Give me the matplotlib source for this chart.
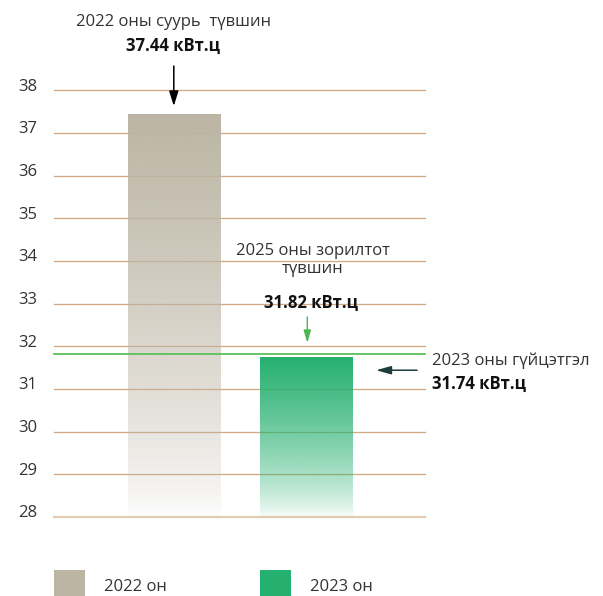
import numpy as np
import matplotlib
matplotlib.use("Agg")
import matplotlib.pyplot as plt
from matplotlib.patches import Rectangle
from matplotlib.transforms import ScaledTranslation
from matplotlib.colors import to_rgb

# ---- data ----
years = ["2022 он", "2023 он"]
values = [37.44, 31.74]
target = 31.82
yticks = [28, 29, 30, 31, 32, 33, 34, 35, 36, 37, 38]
bar_colors = ["#bcb5a4", "#25b06f"]
label_2022_title = "2022 оны суурь  түвшин"
label_2022_value = "37.44 кВт.ц"
label_target_title = "2025 оны зорилтот\nтүвшин"
label_target_value = "31.82 кВт.ц"
label_2023_title = "2023 оны гүйцэтгэл"
label_2023_value = "31.74 кВт.ц"

plt.rcParams['font.family'] = ['Open Sans', 'DejaVu Sans']
TXT = "#333333"
FS = 12
W, H = 603, 596
fig = plt.figure(figsize=(W / 100, H / 100), dpi=100)

def fx(px):
    return px / W

def fy(py):
    return 1 - py / H

ax_left, ax_right, ax_top, ax_bot = 54.3, 425, 90.3, 517
ax = fig.add_axes([fx(ax_left), fy(ax_bot), fx(ax_right - ax_left), (ax_bot - ax_top) / H])

ymin, ymax = yticks[0], yticks[-1]
unit = 132.2  # px per category step
x0_center = 173.8
xlim = (-(x0_center - ax_left) / unit, (ax_right - x0_center) / unit)

# gridlines
for t in yticks:
    c = "#e2cbb2" if t == ymin else "#d2ab86"
    lw = 1.6 if t == ymin else 0.95
    ax.axhline(t, color=c, lw=lw, zorder=1, clip_on=False)

# bars with gradient fill
xs = np.arange(len(values))
bars = ax.bar(xs, [v - ymin for v in values], bottom=ymin, width=0.7,
              facecolor="none", edgecolor="none", zorder=2)
N = 256
tt = np.linspace(0, 1, N)
for bar, col in zip(bars, bar_colors):
    rgb = np.array(to_rgb(col))
    alpha = np.clip((1 - tt) ** 0.7, 0.03, 1)
    img = np.zeros((N, 1, 4))
    img[:, 0, :3] = rgb
    img[:, 0, 3] = alpha
    x0 = bar.get_x()
    x1 = x0 + bar.get_width()
    im = ax.imshow(img, extent=[x0, x1, ymin, bar.get_y() + bar.get_height()],
                   origin="upper", aspect="auto", zorder=2, interpolation="bilinear")
    im.set_clip_path(bar)

# target line
ax.axhline(target, color="#5cbf5c", lw=1.3, zorder=3, clip_on=False)

ax.set_xlim(*xlim)
ax.set_ylim(ymin, ymax)
ax.set_aspect("auto")
for s in ax.spines.values():
    s.set_visible(False)
ax.set_xticks([])
ax.set_yticks(yticks)
ax.set_yticklabels([str(t) for t in yticks])
ax.tick_params(axis="y", length=0, pad=12.5, labelsize=FS, labelcolor=TXT)
for lab in ax.get_yticklabels():
    lab.set_transform(lab.get_transform() + ScaledTranslation(0, 4 / 72, fig.dpi_scale_trans))

# annotations
arrow_kw = dict(shrinkA=0, shrinkB=0)
ax.annotate("", xy=(xs[0], values[0] + 0.19), xytext=(xs[0], values[0] + 1.13),
            arrowprops=dict(arrowstyle="-|>,head_width=0.28,head_length=0.9", color="black",
                            lw=1.1, **arrow_kw),
            annotation_clip=False)
ax.annotate("", xy=(xs[1] + 0.01, target + 0.26), xytext=(xs[1] + 0.01, target + 0.87),
            arrowprops=dict(arrowstyle="-|>,head_width=0.22,head_length=0.75", color="#4cb84c",
                            lw=1.0, **arrow_kw),
            annotation_clip=False)
ax.annotate("", xy=(1.53, values[1] - 0.30), xytext=(1.84, values[1] - 0.30),
            arrowprops=dict(arrowstyle="-|>,head_width=0.25,head_length=0.9", color="#1e3d3d",
                            lw=1.1, **arrow_kw),
            annotation_clip=False)

fig.text(fx(173.5), fy(22), label_2022_title, ha="center", va="center", fontsize=FS, color=TXT)
fig.text(fx(173.5), fy(46), label_2022_value, ha="center", va="center", fontsize=FS,
         color="#111111", fontweight="bold")
fig.text(fx(312.5), fy(260), label_target_title, ha="center", va="center", fontsize=FS,
         color=TXT, linespacing=1.2)
fig.text(fx(311.5), fy(302.5), label_target_value, ha="center", va="center", fontsize=FS,
         color="#111111", fontweight="bold")
fig.text(fx(432), fy(361), label_2023_title, ha="left", va="center", fontsize=FS, color=TXT)
fig.text(fx(432), fy(384), label_2023_value, ha="left", va="center", fontsize=FS,
         color="#111111", fontweight="bold")

# legend
leg_sq_x = [54, 260]
for lx, col, name in zip(leg_sq_x, bar_colors, years):
    fig.patches.append(Rectangle((fx(lx), fy(596)), fx(31), 26 / H, transform=fig.transFigure,
                                 facecolor=col, edgecolor="none"))
    fig.text(fx(lx + 50), fy(587), name, ha="left", va="center", fontsize=FS, color=TXT)

fig.savefig("out.png", dpi=100)
